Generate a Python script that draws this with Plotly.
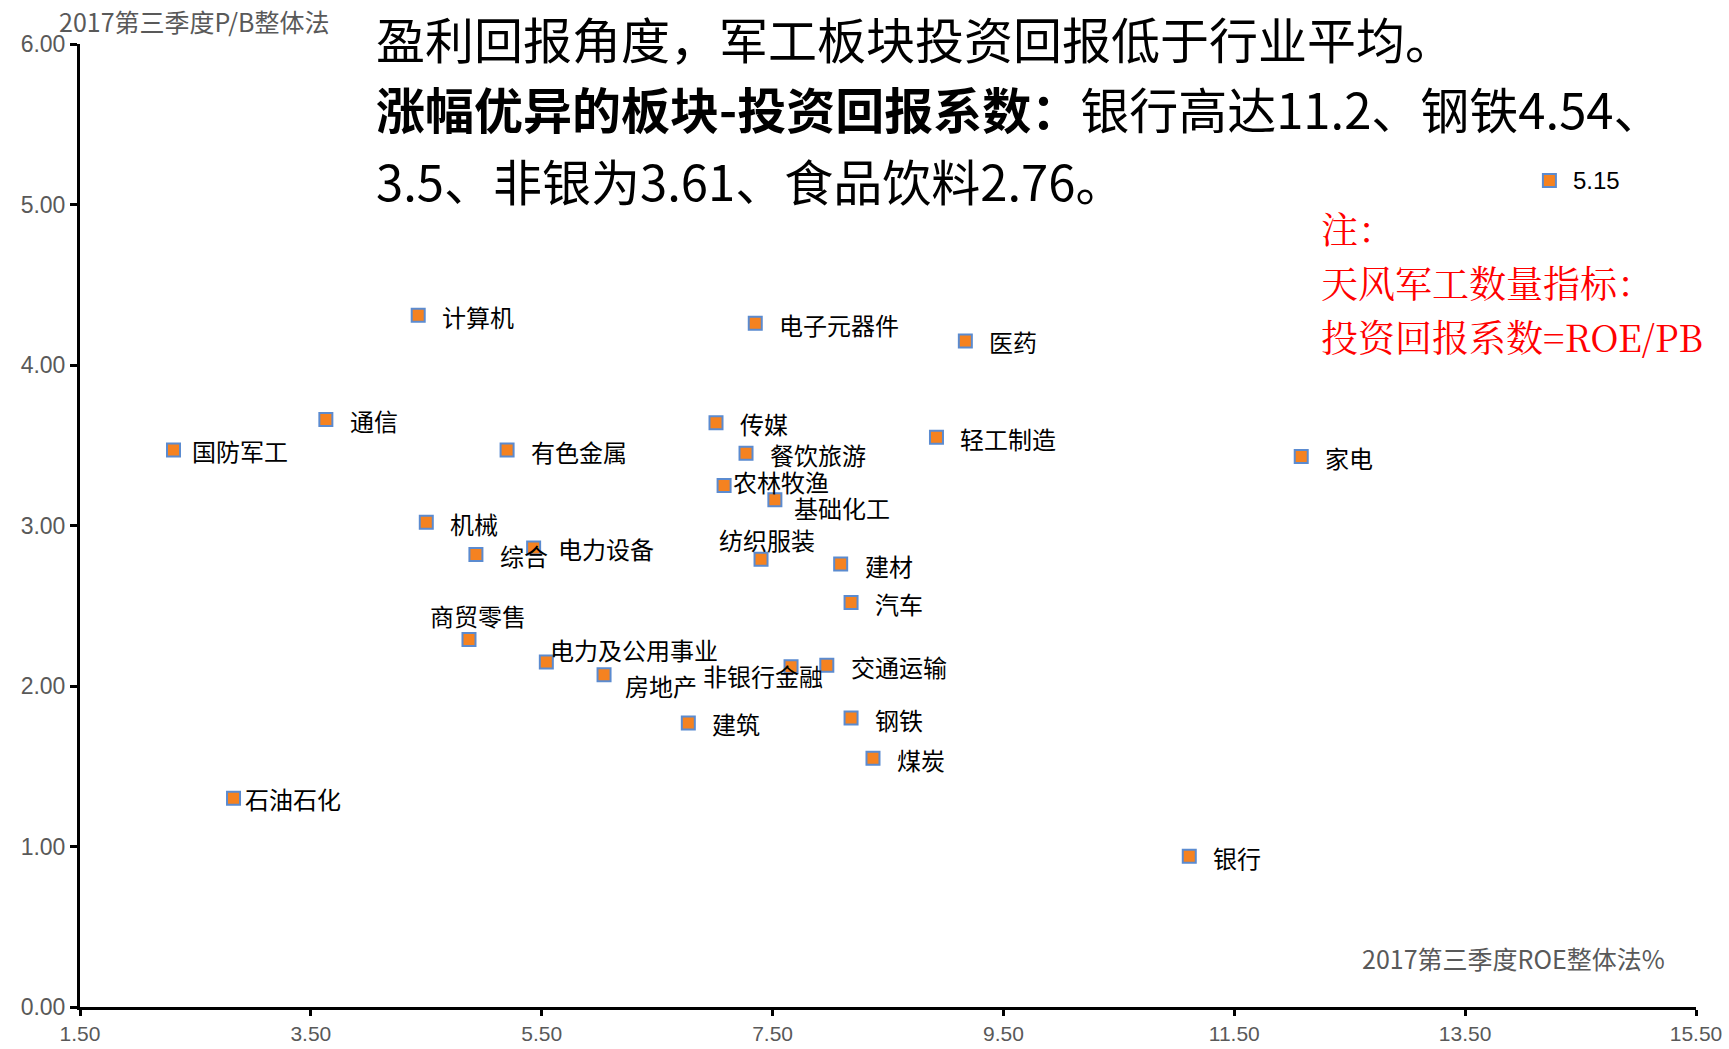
import plotly.graph_objects as go

# ---------------- data ----------------
sectors = ["国防军工", "石油石化", "通信", "计算机", "机械", "商贸零售", "综合", "有色金属",
           "电力设备", "电力及公用事业", "房地产", "建筑", "传媒", "农林牧渔", "餐饮旅游",
           "电子元器件", "纺织服装", "基础化工", "非银行金融", "交通运输", "建材", "汽车",
           "钢铁", "煤炭", "轻工制造", "医药", "银行", "家电", "食品饮料"]
roe = [2.31, 2.83, 3.63, 4.43, 4.50, 4.87, 4.93, 5.20,
       5.43, 5.54, 6.04, 6.77, 7.01, 7.08, 7.27,
       7.35, 7.40, 7.52, 7.66, 7.97, 8.09, 8.18,
       8.18, 8.37, 8.92, 9.17, 11.11, 12.08, 14.23]
pb = [3.47, 1.30, 3.66, 4.31, 3.02, 2.29, 2.82, 3.47,
      2.86, 2.15, 2.07, 1.77, 3.64, 3.25, 3.45,
      4.26, 2.79, 3.16, 2.12, 2.13, 2.76, 2.52,
      1.80, 1.55, 3.55, 4.15, 0.94, 3.43, 5.15]
point_labels = sectors[:-1] + ["5.15"]

x_ticks = [1.5, 3.5, 5.5, 7.5, 9.5, 11.5, 13.5, 15.5]
y_ticks = [0, 1, 2, 3, 4, 5, 6]

x_title = "2017第三季度ROE整体法%"
y_title = "2017第三季度P/B整体法"
headline_1 = "盈利回报角度，军工板块投资回报低于行业平均。"
headline_2_bold = "涨幅优异的板块-投资回报系数："
headline_2_rest = "银行高达11.2、钢铁4.54、"
headline_3 = "3.5、非银为3.61、食品饮料2.76。"
note_lines = ["注：", "天风军工数量指标：", "投资回报系数=ROE/PB"]

# ---------------- layout / style ----------------
W, H = 1729, 1049
L, R, T, B = 80, 1696, 44, 1007  # plot-area pixel box


def paper(px, py):
    return (px - L) / (R - L), (B - py) / (B - T)


# label placement (anchor, xshift, yshift) — default: to the right
default_offset = ("left", 22, -3)
label_offsets = {
    "国防军工": ("left", 16, -2),
    "石油石化": ("left", 9, -2),
    "商贸零售": ("center", 9, 22),
    "电力及公用事业": ("left", 2, 10),
    "房地产": ("left", 19, -13),
    "非银行金融": ("center", -28, -11),
    "农林牧渔": ("left", 7, 2),
    "纺织服装": ("center", 6, 18),
    "基础化工": ("left", 17, -10),
    "食品饮料": ("left", 22, 0),
}

GREY = "#595959"
LABEL_FONT = "Arial, 'Liberation Sans', 'Noto Sans CJK SC', sans-serif"
CJK_FONT = "'Noto Sans CJK SC', 'Noto Sans', sans-serif"
NOTE_FONT = "'Noto Serif CJK SC', " + CJK_FONT

fig = go.Figure()
fig.add_trace(go.Scatter(
    x=roe, y=pb, mode="markers",
    marker=dict(symbol="square", size=13, color="#F58220",
                line=dict(color="#5B8BD0", width=2)),
    hoverinfo="skip", showlegend=False,
))

annotations = []
for name, lab, xv, yv in zip(sectors, point_labels, roe, pb):
    anchor, xs, ys = label_offsets.get(name, default_offset)
    annotations.append(dict(
        x=xv, y=yv, xref="x", yref="y", text=lab, showarrow=False,
        xanchor=anchor, yanchor="middle", xshift=xs, yshift=ys,
        font=dict(family=LABEL_FONT, size=24, color="#000000"),
    ))

# axis titles
ax, ay = paper(57, 21)
annotations.append(dict(x=ax, y=ay, xref="paper", yref="paper", text=y_title,
                        showarrow=False, xanchor="left", yanchor="middle",
                        font=dict(family=CJK_FONT, size=25, color=GREY)))
ax, ay = paper(1667, 958)
annotations.append(dict(x=ax, y=ay, xref="paper", yref="paper", text=x_title,
                        showarrow=False, xanchor="right", yanchor="middle",
                        font=dict(family=CJK_FONT, size=25, color=GREY)))

# headline: three separate lines
for txt, py in [(headline_1, 37),
                ("<b>" + headline_2_bold + "</b>" + headline_2_rest, 108),
                (headline_3, 179)]:
    ax, ay = paper(375, py)
    annotations.append(dict(x=ax, y=ay, xref="paper", yref="paper", text=txt,
                            showarrow=False, xanchor="left", yanchor="middle",
                            borderpad=0,
                            font=dict(family=CJK_FONT, size=49, color="#000000")))

# red note: three separate lines
for txt, py in zip(note_lines, [228, 282, 336]):
    ax, ay = paper(1320, py)
    annotations.append(dict(x=ax, y=ay, xref="paper", yref="paper", text=txt,
                            showarrow=False, xanchor="left", yanchor="middle",
                            borderpad=0,
                            font=dict(family=NOTE_FONT, size=37, color="#FF0000")))

fig.update_layout(
    width=W, height=H,
    margin=dict(l=L, r=W - R, t=T, b=H - B, pad=0, autoexpand=False),
    paper_bgcolor="white", plot_bgcolor="white",
    annotations=annotations,
    xaxis=dict(range=[1.5, 15.5], tickvals=x_ticks, tickformat=".2f",
               automargin=False,
               showgrid=False, zeroline=False, showline=True,
               linecolor="black", linewidth=3, ticks="outside",
               ticklen=6, tickwidth=2.5, tickcolor="black",
               tickfont=dict(family="'Liberation Sans Narrow', Arial, sans-serif",
                             size=21, color=GREY)),
    yaxis=dict(range=[0, 6], tickvals=y_ticks, tickformat=".2f",
               automargin=False,
               showgrid=False, zeroline=False, showline=True,
               linecolor="black", linewidth=3, ticks="outside",
               ticklen=7, tickwidth=2.5, tickcolor="black",
               tickfont=dict(family="Arial, 'Liberation Sans', sans-serif",
                             size=23, color=GREY)),
)

fig.write_html("out.html")
